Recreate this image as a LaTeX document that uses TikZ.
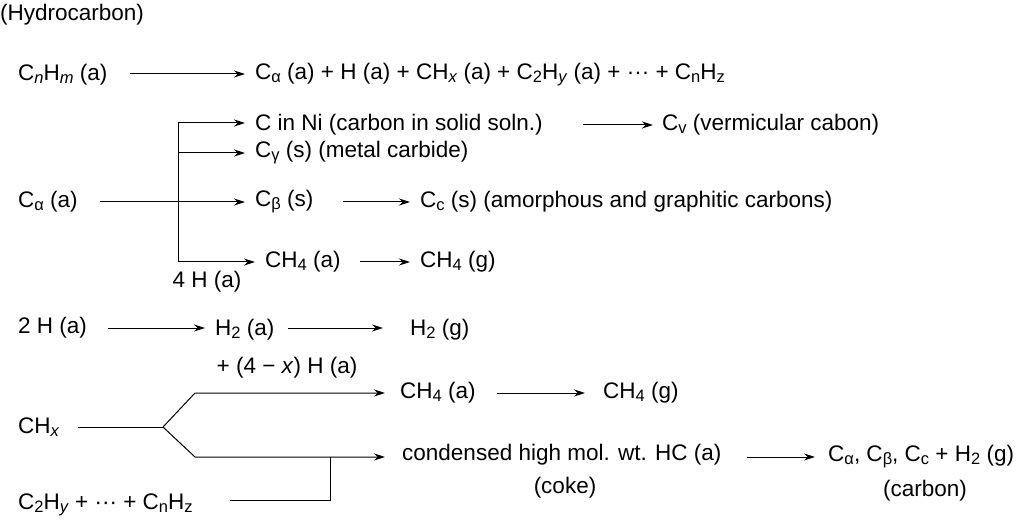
\documentclass[tikz,border=0pt]{standalone}
\usepackage{fontspec}
\setmainfont{Liberation Sans}
\usetikzlibrary{arrows.meta}
\newcommand{\sub}[1]{\raisebox{-0.25ex}{\fontsize{16.5}{17}\selectfont #1}}
\begin{document}
\begin{tikzpicture}[x=1pt,y=-1pt,font=\fontsize{22.5}{26}\selectfont,
  t/.style={anchor=west,inner sep=0pt},
  ar/.style={-{Stealth[length=11pt,width=7pt]},line width=1pt},
  ln/.style={line width=1pt}]
\useasboundingbox (0,0) rectangle (1024,526);
\node[t] (hc) at (0,15) {(Hydrocarbon)};
\node[t] (cnhm) at (18,75) {C\sub{\textit{n}}H\sub{\textit{m}} (a)};
\node[t] (r1) at (255,75) {C\sub{α} (a) + H (a) + CH\sub{\textit{x}} (a) + C\sub{2}H\sub{\textit{y}} (a) + ··· + C\sub{n}H\sub{z}};
\draw[ar] (130,74) -- (245,74);
\node[t] (ca) at (18,202) {C\sub{α} (a)};
\coordinate (j) at (178,202);
\draw[ln] (100,202) -- (j);
\node[t] (cni) at (255,125) {C in Ni (carbon in solid soln.)};
\node[t] (cv) at (662,125) {C\sub{v} (vermicular cabon)};
\node[t] (cg) at (255,153) {C\sub{γ} (s) (metal carbide)};
\node[t] (cb) at (255,202) {C\sub{β} (s)};
\node[t] (cc) at (420,202) {C\sub{c} (s) (amorphous and graphitic carbons)};
\node[t] (ch4a) at (265,262) {CH\sub{4} (a)};
\node[t] (ch4g) at (420,262) {CH\sub{4} (g)};
\node[anchor=north,inner sep=0pt] (h4) at (207,271) {4 H (a)};
\draw[ln] (178,123) -- (178,262);
\draw[ar] (178,123) -- (245,123);
\draw[ar] (178,153) -- (245,153);
\draw[ar] (j) -- (245,202);
\draw[ar] (178,262) -- (255,262);
\draw[ar] (583,125) -- (653,125);
\draw[ar] (343,202) -- (410,202);
\draw[ar] (360,262) -- (410,262);
\node[t] (h2) at (18,328) {2 H (a)};
\node[t] (h2a) at (215,330) {H\sub{2} (a)};
\node[t] (h2g) at (410,330) {H\sub{2} (g)};
\draw[ar] (108,328) -- (205,328);
\draw[ar] (288,328) -- (383,328);
\node[inner sep=0pt] (plus) at (287,368) {+ (4 − \textit{x}) H (a)};
\node[t] (chx) at (18,427) {CH\sub{\textit{x}}};
\coordinate (f) at (163,427);
\draw[ln] (78,427) -- (f);
\node[t] (ch4a2) at (400,393) {CH\sub{4} (a)};
\node[t] (ch4g2) at (603,393) {CH\sub{4} (g)};
\draw[ar] (f) -- (195,393) -- (385,393);
\draw[ar] (f) -- (195,457) -- (385,457);
\draw[ar] (497,393) -- (585,393);
\node[t] (coke) at (402,455) {condensed high mol. wt. HC (a)};
\node[inner sep=0pt] (cokel) at (565,488) {(coke)};
\node[t] (carb) at (828,457) {C\sub{α}, C\sub{β}, C\sub{c} + H\sub{2} (g)};
\node[inner sep=0pt] (carbl) at (925,491) {(carbon)};
\draw[ar] (747,457) -- (815,457);
\node[t] (c2hy) at (18,505) {C\sub{2}H\sub{\textit{y}} + ··· + C\sub{n}H\sub{z}};
\draw[ln] (230,500) -- (330,500) -- (330,457);
\end{tikzpicture}
\end{document}
